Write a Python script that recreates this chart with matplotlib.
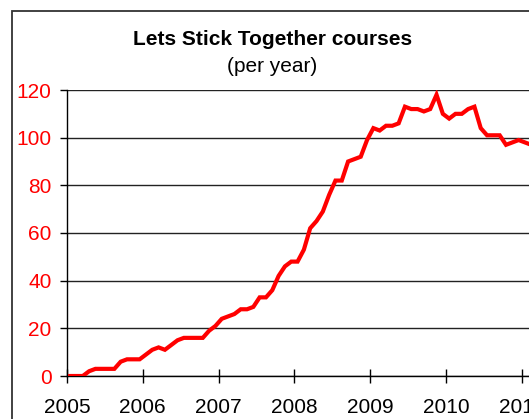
import matplotlib
matplotlib.use("Agg")
import matplotlib.pyplot as plt
from matplotlib.patches import Rectangle
import numpy as np

plt.rcParams['font.family'] = ['Liberation Sans', 'DejaVu Sans']

title = "Lets Stick Together courses"
subtitle = "(per year)"
start_year = 2005
# monthly values, starting January 2005
courses = [0, 0, 0, 2, 3, 3, 3, 3, 6, 7, 7, 7,
           9, 11, 12, 11, 13, 15, 16, 16, 16, 16, 19, 21,
           24, 25, 26, 28, 28, 29, 33, 33, 36, 42, 46, 48,
           48, 53, 62, 65, 69, 76, 82, 82, 90, 91, 92, 99,
           104, 103, 105, 105, 106, 113, 112, 112, 111, 112, 118, 110,
           108, 110, 110, 112, 113, 104, 101, 101, 101, 97, 98, 99,
           98, 97]
year_ticks = [2005, 2006, 2007, 2008, 2009, 2010, 2011]
y_ticks = [0, 20, 40, 60, 80, 100, 120]

W, H = 529, 419
fig = plt.figure(figsize=(W / 100, H / 100), dpi=100)

# outer chart border (cropped at right/bottom)
fig.patches.append(Rectangle((12 / W, -0.2), 1.2, 1 - 11 / H + 0.2,
                             transform=fig.transFigure, fill=False,
                             edgecolor='#333333', linewidth=1.3))

left, bottom, top = 67 / W, 1 - 376 / H, 1 - 90 / H
px_per_year = 75.8
xmax = 2011.5
width = (xmax - start_year) * px_per_year / W
ax = fig.add_axes([left, bottom, width, top - bottom])

months = np.arange(len(courses))
x = start_year + (months + 0.5) / 12.0
ax.plot(x, courses, color='#ff0000', linewidth=3, solid_joinstyle='miter', zorder=3)

ax.set_xlim(start_year, xmax)
ax.set_ylim(0, 120)
ax.set_yticks(y_ticks)
ax.set_xticks(year_ticks)
ax.set_xticklabels([str(y) for y in year_ticks])
ax.yaxis.grid(True, color='#222222', linewidth=1.0)
ax.set_axisbelow(True)

for s in ['top', 'right']:
    ax.spines[s].set_visible(False)
ax.spines['left'].set_color('black')
ax.spines['bottom'].set_color('black')
ax.spines['left'].set_linewidth(1.0)
ax.spines['bottom'].set_linewidth(1.0)

ax.tick_params(axis='y', direction='out', length=5, width=1.0, labelsize=15,
               labelcolor='#ff0000', pad=6)
ax.tick_params(axis='x', direction='inout', length=9.5, width=1.0, labelsize=15,
               labelcolor='black', pad=11)

fig.text(272.5 / W, 1 - 45 / H, title, ha='center', va='baseline',
         fontsize=15, fontweight='bold')
fig.text(272.5 / W, 1 - 71.7 / H, subtitle, ha='center', va='baseline',
         fontsize=15)

fig.savefig("out.png", dpi=100)
